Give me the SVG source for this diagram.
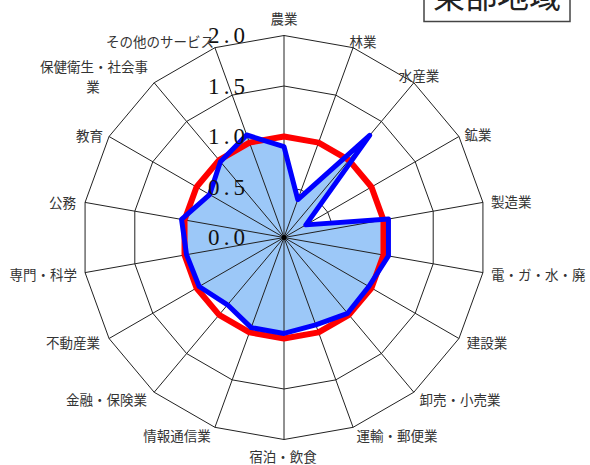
<svg xmlns="http://www.w3.org/2000/svg" width="590" height="465" viewBox="0 0 590 465">
<style>
.ring{fill:none;stroke:#222;stroke-width:1}
.spoke{fill:none;stroke:#222;stroke-width:1}
.cat{font-family:"Noto Sans CJK JP","Noto Sans",sans-serif;font-size:13.5px;fill:#333;text-anchor:middle}
.val{font-family:"Liberation Serif","DejaVu Serif",serif;font-size:23px;fill:#111}
</style>
<rect width="590" height="465" fill="#fff"/>
<g id="title">
<rect x="424" y="-12" width="146" height="33.5" fill="#fff" stroke="#444" stroke-width="1.5"/>
<text x="497" y="8" font-family="Noto Sans CJK JP, sans-serif" font-size="32" fill="#222" text-anchor="middle">東部地域</text>
</g>
<g id="grid" transform="translate(284,237.5)">
<polygon class="ring" points="0,-202 69.09,-189.82 129.84,-154.74 174.94,-101 198.93,-35.08 198.93,35.08 174.94,101 129.84,154.74 69.09,189.82 0,202 -69.09,189.82 -129.84,154.74 -174.94,101 -198.93,35.08 -198.93,-35.08 -174.94,-101 -129.84,-154.74 -69.09,-189.82"/>
<polygon class="ring" points="0,-151.5 51.82,-142.36 97.38,-116.06 131.2,-75.75 149.2,-26.31 149.2,26.31 131.2,75.75 97.38,116.06 51.82,142.36 0,151.5 -51.82,142.36 -97.38,116.06 -131.2,75.75 -149.2,26.31 -149.2,-26.31 -131.2,-75.75 -97.38,-116.06 -51.82,-142.36"/>
<polygon class="ring" points="0,-101 34.54,-94.91 64.92,-77.37 87.47,-50.5 99.47,-17.54 99.47,17.54 87.47,50.5 64.92,77.37 34.54,94.91 0,101 -34.54,94.91 -64.92,77.37 -87.47,50.5 -99.47,17.54 -99.47,-17.54 -87.47,-50.5 -64.92,-77.37 -34.54,-94.91"/>
<polygon class="ring" points="0,-50.5 17.27,-47.45 32.46,-38.69 43.74,-25.25 49.73,-8.77 49.73,8.77 43.74,25.25 32.46,38.69 17.27,47.45 0,50.5 -17.27,47.45 -32.46,38.69 -43.74,25.25 -49.73,8.77 -49.73,-8.77 -43.74,-25.25 -32.46,-38.69 -17.27,-47.45"/>
</g>
<g id="series-area" transform="translate(284,237.5)">
<polygon points="0,-90.9 13.82,-37.96 85.69,-102.12 21.87,-12.63 104.44,-18.42 104.44,18.42 84.85,48.99 63.62,75.82 31.78,87.32 0,95.95 -32.82,90.16 -56.48,67.31 -84.85,48.99 -97.48,17.19 -102.45,-18.06 -74.35,-42.93 -63.62,-75.82 -37.31,-102.5" fill="#9cc8f8" stroke="none"/>
</g>
<g id="connectors" transform="translate(284,237.5)">
<path class="spoke" d="M0,0L0,-202M0,0L69.09,-189.82M0,0L129.84,-154.74M0,0L174.94,-101M0,0L198.93,-35.08M0,0L198.93,35.08M0,0L174.94,101M0,0L129.84,154.74M0,0L69.09,189.82M0,0L0,202M0,0L-69.09,189.82M0,0L-129.84,154.74M0,0L-174.94,101M0,0L-198.93,35.08M0,0L-198.93,-35.08M0,0L-174.94,-101M0,0L-129.84,-154.74M0,0L-69.09,-189.82"/>
<circle cx="0" cy="0" r="2.5" fill="#000"/>
</g>
<g id="series-lines" transform="translate(284,237.5)">
<polygon points="0,-101 34.54,-94.91 64.92,-77.37 87.47,-50.5 99.47,-17.54 99.47,17.54 87.47,50.5 64.92,77.37 34.54,94.91 0,101 -34.54,94.91 -64.92,77.37 -87.47,50.5 -99.47,17.54 -99.47,-17.54 -87.47,-50.5 -64.92,-77.37 -34.54,-94.91" fill="none" stroke="#ff0000" stroke-width="6" stroke-linejoin="round"/>
<polygon points="0,-90.9 13.82,-37.96 85.69,-102.12 21.87,-12.63 104.44,-18.42 104.44,18.42 84.85,48.99 63.62,75.82 31.78,87.32 0,95.95 -32.82,90.16 -56.48,67.31 -84.85,48.99 -97.48,17.19 -102.45,-18.06 -74.35,-42.93 -63.62,-75.82 -37.31,-102.5" fill="none" stroke="#0000ff" stroke-width="5" stroke-linejoin="round"/>
</g>
<g id="axis-values">
<text class="val" x="208" y="43" textLength="37" lengthAdjust="spacing">2.0</text>
<text class="val" x="208" y="93.5" textLength="37" lengthAdjust="spacing">1.5</text>
<text class="val" x="208" y="144" textLength="37" lengthAdjust="spacing">1.0</text>
<text class="val" x="208" y="194.5" textLength="37" lengthAdjust="spacing">0.5</text>
<text class="val" x="208" y="245" textLength="37" lengthAdjust="spacing">0.0</text>
</g>
<g id="labels">
<text class="cat" x="284" y="24">農業</text>
<text class="cat" x="363" y="47">林業</text>
<text class="cat" x="419" y="81">水産業</text>
<text class="cat" x="478" y="140">鉱業</text>
<text class="cat" x="491" y="207" style="text-anchor:start">製造業</text>
<text class="cat" x="491" y="280" style="text-anchor:start">電・ガ・水・廃</text>
<text class="cat" x="487" y="348">建設業</text>
<text class="cat" x="460" y="405">卸売・小売業</text>
<text class="cat" x="397" y="441">運輸・郵便業</text>
<text class="cat" x="283" y="462">宿泊・飲食</text>
<text class="cat" x="177" y="441">情報通信業</text>
<text class="cat" x="147" y="405" style="text-anchor:end">金融・保険業</text>
<text class="cat" x="100" y="348" style="text-anchor:end">不動産業</text>
<text class="cat" x="77" y="280" style="text-anchor:end">専門・科学</text>
<text class="cat" x="76" y="208" style="text-anchor:end">公務</text>
<text class="cat" x="103" y="141" style="text-anchor:end">教育</text>
<text class="cat" x="148" y="72" style="text-anchor:end">保健衛生・社会事</text>
<text class="cat" x="93" y="92">業</text>
<text class="cat" x="214" y="47" style="text-anchor:end">その他のサービス</text>
</g>
</svg>
